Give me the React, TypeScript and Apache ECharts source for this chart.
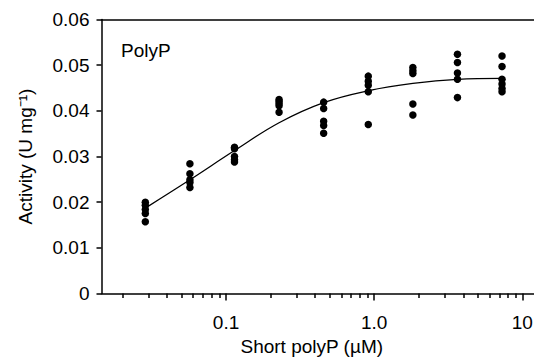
import React, { useEffect, useRef } from "react";
import * as echarts from "echarts";

// Concentrations of short polyP (µM)
const concentrations = [0.0285, 0.057, 0.114, 0.228, 0.456, 0.9125, 1.825, 3.65, 7.3];

// Replicate activity measurements (U mg^-1) per concentration
const replicates: number[][] = [
  [0.0200, 0.0193, 0.0184, 0.0175, 0.0157],
  [0.0284, 0.0262, 0.0249, 0.0243, 0.0232],
  [0.0320, 0.0317, 0.0300, 0.0293, 0.0288],
  [0.0425, 0.0421, 0.0416, 0.0411, 0.0397],
  [0.0419, 0.0405, 0.0377, 0.0368, 0.0351],
  [0.0476, 0.0465, 0.0456, 0.0442, 0.0370],
  [0.0495, 0.0488, 0.0482, 0.0415, 0.0391],
  [0.0524, 0.0506, 0.0483, 0.0469, 0.0429],
  [0.0520, 0.0497, 0.0469, 0.0459, 0.0449, 0.0442],
];

// Fitted curve at each concentration
const fitValues = [0.0187, 0.0249, 0.0313, 0.0374, 0.0418, 0.0444, 0.0460, 0.0469, 0.0471];

const xMajorTicks = [0.1, 1, 10];
const xMinorTicks = [
  0.02, 0.03, 0.04, 0.05, 0.06, 0.07, 0.08, 0.09,
  0.2, 0.3, 0.4, 0.5, 0.6, 0.7, 0.8, 0.9,
  2, 3, 4, 5, 6, 7, 8, 9,
];
const xTickLabels = ["0.1", "1.0", "10"];
const yTickLabels = ["0", "0.01", "0.02", "0.03", "0.04", "0.05", "0.06"];

const FONT = "'Liberation Sans', Arial, Helvetica, sans-serif";
const FS = 19;

export default function App() {
  const ref = useRef<HTMLDivElement>(null);

  useEffect(() => {
    if (!ref.current) return;
    const chart = echarts.init(ref.current, undefined, { renderer: "svg" });

    const scatterData: number[][] = [];
    concentrations.forEach((c, i) => {
      replicates[i].forEach((v) => scatterData.push([c, v]));
    });
    const fitData = concentrations.map((c, i) => [c, fitValues[i]]);

    const xMin = 0.01442;
    const xMax = 12.0;
    const lineStyle = { color: "#000", width: 1.5 };

    chart.setOption({
      animation: false,
      backgroundColor: "#fff",
      grid: {
        left: 101.5,
        right: 0,
        top: 19.5,
        bottom: 67.5,
        outerBoundsMode: "none",
      },
      graphic: [
        {
          type: "text",
          left: 121,
          top: 41,
          style: { text: "PolyP", fontSize: FS, fontFamily: FONT, fill: "#000" },
        },
      ],
      xAxis: [
        {
          type: "log",
          logBase: 10,
          min: xMin,
          max: xMax,
          position: "bottom",
          axisLine: { show: true, lineStyle },
          axisTick: {
            show: true,
            inside: false,
            length: 4.5,
            customValues: xMinorTicks,
            lineStyle,
          },
          axisLabel: {
            show: true,
            customValues: xMajorTicks,
            margin: 19,
            fontSize: FS,
            fontFamily: FONT,
            color: "#000",
            formatter: (v: number) => {
              const idx = Math.round(Math.log10(v)) + 1;
              return xTickLabels[idx] ?? String(v);
            },
          },
          splitLine: { show: false },
          minorTick: { show: false },
          name: "Short polyP (µM)",
          nameLocation: "middle",
          nameGap: 43,
          nameTextStyle: {
            fontSize: FS,
            fontFamily: FONT,
            color: "#000",
            padding: [0, 12, 0, 0],
          },
        },
        {
          type: "log",
          logBase: 10,
          min: xMin,
          max: xMax,
          position: "bottom",
          offset: 0,
          axisLine: { show: false },
          axisTick: {
            show: true,
            inside: false,
            length: 7,
            customValues: xMajorTicks,
            lineStyle,
          },
          axisLabel: { show: false },
          splitLine: { show: false },
        },
        {
          type: "log",
          logBase: 10,
          min: xMin,
          max: xMax,
          position: "top",
          offset: 0,
          axisLine: { show: true, lineStyle },
          axisTick: { show: false },
          axisLabel: { show: false },
          splitLine: { show: false },
        },
      ],
      yAxis: {
        type: "value",
        min: 0,
        max: 0.06,
        interval: 0.01,
        axisLine: { show: true, lineStyle },
        axisTick: { show: true, inside: false, length: 5, lineStyle },
        axisLabel: {
          margin: 12,
          fontSize: FS,
          fontFamily: FONT,
          color: "#000",
          formatter: (v: number) => yTickLabels[Math.round(v / 0.01)] ?? String(v),
        },
        splitLine: { show: false },
        name: "Activity (U mg⁻¹)",
        nameLocation: "middle",
        nameRotate: 90,
        nameGap: 67,
        nameTextStyle: { fontSize: FS, fontFamily: FONT, color: "#000" },
      },
      series: [
        {
          type: "line",
          name: "fit",
          xAxisIndex: 0,
          data: fitData,
          smooth: 0.4,
          showSymbol: false,
          symbol: "none",
          lineStyle: { color: "#000", width: 1.3 },
          z: 2,
        },
        {
          type: "scatter",
          name: "data",
          xAxisIndex: 0,
          data: scatterData,
          symbol: "circle",
          symbolSize: 7.5,
          itemStyle: { color: "#000", opacity: 1 },
          z: 3,
        },
      ],
    });

    return () => chart.dispose();
  }, []);

  return (
    <div
      ref={ref}
      style={{ position: "fixed", left: 0, top: 0, width: 534, height: 361, background: "#fff" }}
    />
  );
}
